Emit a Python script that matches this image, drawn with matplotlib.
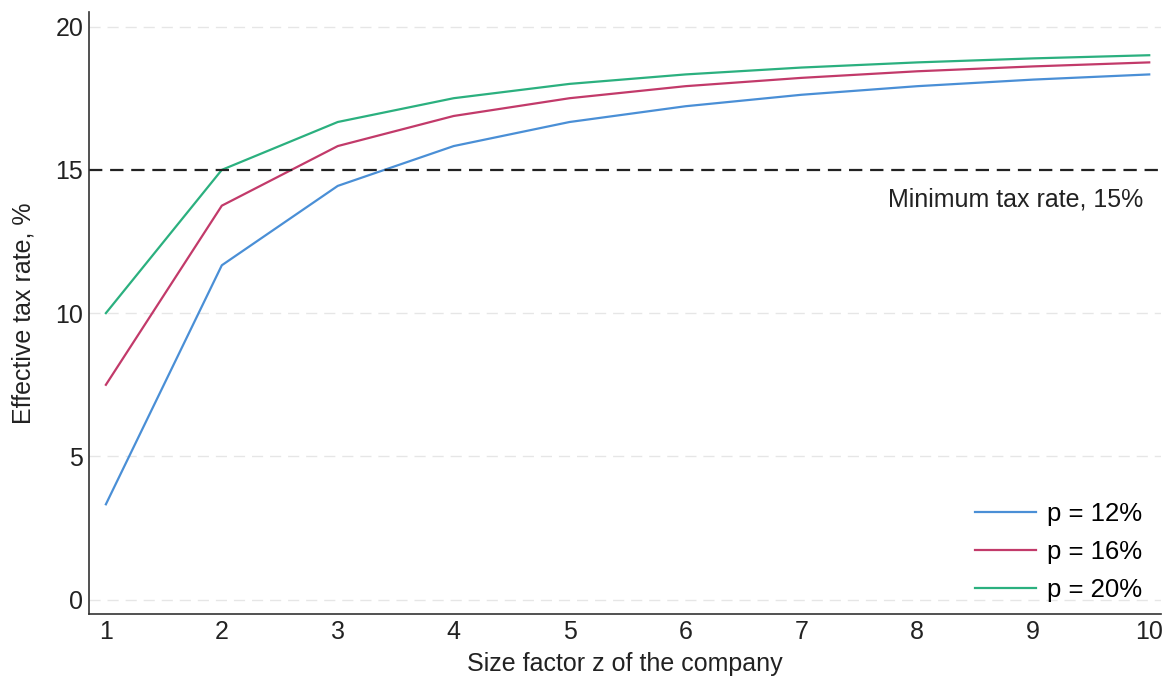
import matplotlib
matplotlib.use("Agg")
import matplotlib.pyplot as plt

plt.rcParams["font.family"] = ["Liberation Sans", "DejaVu Sans"]

z = [1, 2, 3, 4, 5, 6, 7, 8, 9, 10]
rate_p12 = [3.33, 11.67, 14.44, 15.83, 16.67, 17.22, 17.62, 17.92, 18.15, 18.33]
rate_p16 = [7.5, 13.75, 15.83, 16.88, 17.5, 17.92, 18.21, 18.44, 18.61, 18.75]
rate_p20 = [10.0, 15.0, 16.67, 17.5, 18.0, 18.33, 18.57, 18.75, 18.89, 19.0]
labels = ["p = 12%", "p = 16%", "p = 20%"]
colors = ["#4a8fd6", "#c23a6a", "#2bb07f"]
min_rate = 15

fig = plt.figure(figsize=(11.69, 6.8), dpi=100)
ax = fig.add_axes([0.076, 0.097, 0.917, 0.885])

for y in [0, 5, 10, 20]:
    ax.axhline(y, color="#e6e6e6", lw=1, ls=(0, (8, 5)), zorder=0)

for vals, lab, c in zip([rate_p12, rate_p16, rate_p20], labels, colors):
    ax.plot(z, vals, color=c, lw=1.6, label=lab)

ax.axhline(min_rate, color="#222222", lw=1.6, ls=(0, (6, 3.5)))
ax.text(9.95, 13.95, "Minimum tax rate, 15%", ha="right", va="center", fontsize=18, color="#222222")

ax.set_xlim(0.853, 10.1)
ax.set_ylim(-0.5, 20.5)
ax.set_xticks(z)
ax.set_yticks([0, 5, 10, 15, 20])
ax.tick_params(length=0, labelsize=18, colors="#222222", pad=4)
for s in ["top", "right"]:
    ax.spines[s].set_visible(False)
for s in ["left", "bottom"]:
    ax.spines[s].set_color("#333333")
    ax.spines[s].set_linewidth(1.2)

ax.set_xlabel("Size factor z of the company", fontsize=18, color="#222222", labelpad=6)
ax.set_ylabel("Effective tax rate, %", fontsize=18, color="#222222", labelpad=14)

ax.legend(loc="lower right", frameon=False, fontsize=18.5, handlelength=2.4,
          handletextpad=0.4, borderaxespad=0.05, labelspacing=0.55,
          bbox_to_anchor=(0.993, 0.0))

fig.savefig("out.png", dpi=100)
